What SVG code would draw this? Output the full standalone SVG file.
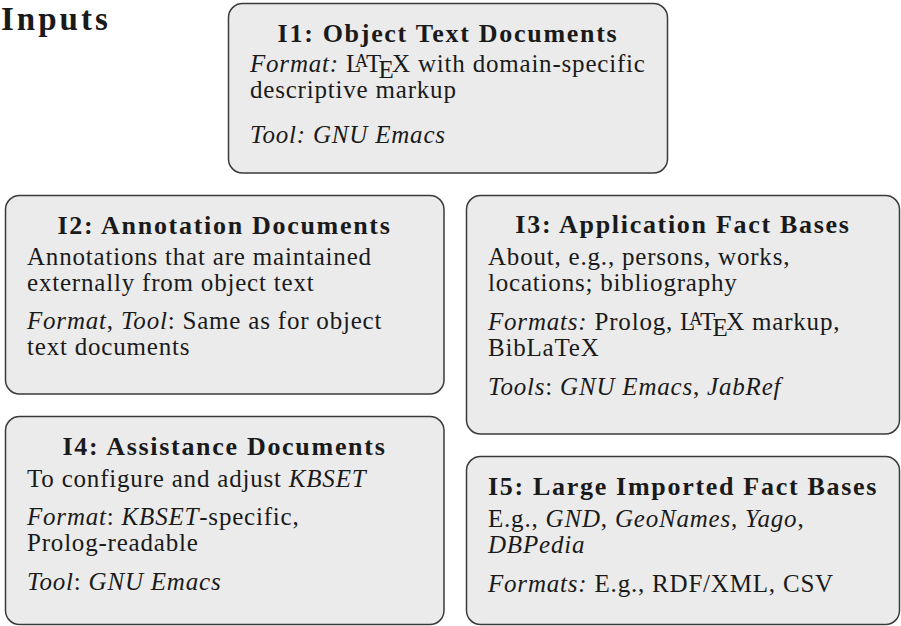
<svg xmlns="http://www.w3.org/2000/svg" width="901" height="626" viewBox="0 0 901 626">
<style>
.box { fill: #ebebeb; stroke: #3a3a3a; stroke-width: 1.5; }
.t { font-family: "Liberation Serif", "Times New Roman", serif; font-size: 25px; letter-spacing: 0.8px; fill: #1a1a1a; }
.b { font-weight: bold; font-size: 26px; letter-spacing: 1.7px; text-anchor: middle; }
.i { font-style: italic; }
.h { font-family: "Liberation Serif", "Times New Roman", serif; font-weight: bold; font-size: 33px; letter-spacing: 3px; fill: #1a1a1a; }
</style>
<rect width="901" height="626" fill="#ffffff"/>
<text class="h" x="1" y="30">Inputs</text>

<g id="I1">
<rect class="box" x="228.5" y="3.5" width="439" height="169.5" rx="14"/>
<text class="t b" x="448" y="42">I1: Object Text Documents</text>
<text class="t" x="250" y="72"><tspan class="i">Format:</tspan> L<tspan dx="-7" dy="-5.5" font-size="18">A</tspan><tspan dx="-3" dy="5.5">T</tspan><tspan dx="-3.5" dy="5.5">E</tspan><tspan dx="-2.5" dy="-5.5">X</tspan> with domain-specific</text>
<text class="t" x="250" y="98">descriptive markup</text>
<text class="t i" x="250" y="143">Tool: GNU Emacs</text>
</g>

<g id="I2">
<rect class="box" x="5.5" y="195.5" width="438.5" height="198.5" rx="14"/>
<text class="t b" x="224.5" y="234">I2: Annotation Documents</text>
<text class="t" x="27" y="265">Annotations that are maintained</text>
<text class="t" x="27" y="291">externally from object text</text>
<text class="t" x="27" y="329"><tspan class="i">Format</tspan>, <tspan class="i">Tool</tspan>: Same as for object</text>
<text class="t" x="27" y="355">text documents</text>
</g>

<g id="I3">
<rect class="box" x="466.5" y="195.5" width="433" height="238.5" rx="14"/>
<text class="t b" x="683" y="233">I3: Application Fact Bases</text>
<text class="t" x="488" y="265">About, e.g., persons, works,</text>
<text class="t" x="488" y="291">locations; bibliography</text>
<text class="t" x="488" y="330"><tspan class="i">Formats:</tspan> Prolog, L<tspan dx="-7" dy="-5.5" font-size="18">A</tspan><tspan dx="-3" dy="5.5">T</tspan><tspan dx="-3.5" dy="5.5">E</tspan><tspan dx="-2.5" dy="-5.5">X</tspan> markup,</text>
<text class="t" x="488" y="356">BibLaTeX</text>
<text class="t" x="488" y="395"><tspan class="i">Tools</tspan>: <tspan class="i">GNU Emacs</tspan>, <tspan class="i">JabRef</tspan></text>
</g>

<g id="I4">
<rect class="box" x="5.5" y="416.5" width="438.5" height="208" rx="14"/>
<text class="t b" x="224.5" y="455">I4: Assistance Documents</text>
<text class="t" x="27" y="487">To configure and adjust <tspan class="i">KBSET</tspan></text>
<text class="t" x="27" y="525"><tspan class="i">Format</tspan>: <tspan class="i">KBSET</tspan>-specific,</text>
<text class="t" x="27" y="551">Prolog-readable</text>
<text class="t" x="27" y="590"><tspan class="i">Tool</tspan>: <tspan class="i">GNU Emacs</tspan></text>
</g>

<g id="I5">
<rect class="box" x="466.5" y="456.5" width="433" height="168" rx="14"/>
<text class="t b" x="683" y="495">I5: Large Imported Fact Bases</text>
<text class="t" x="488" y="527">E.g., <tspan class="i">GND</tspan>, <tspan class="i">GeoNames</tspan>, <tspan class="i">Yago</tspan>,</text>
<text class="t i" x="488" y="553">DBPedia</text>
<text class="t" x="488" y="592"><tspan class="i">Formats:</tspan> E.g., RDF/XML, CSV</text>
</g>
</svg>
